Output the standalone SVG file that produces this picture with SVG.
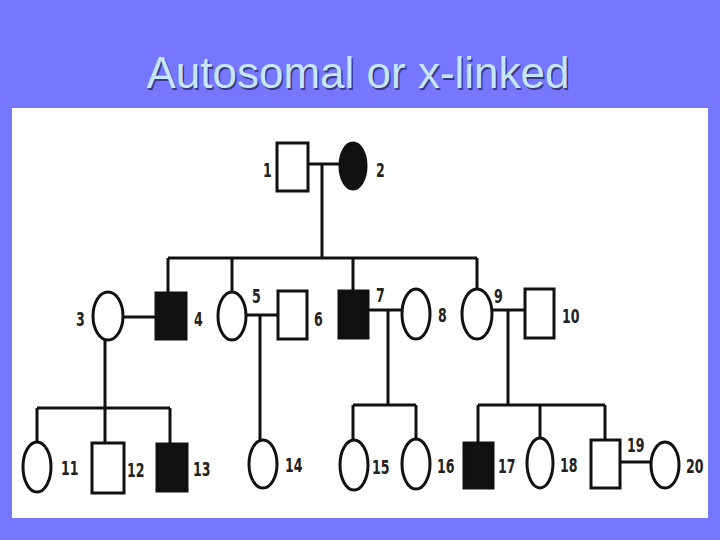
<svg xmlns="http://www.w3.org/2000/svg" width="720" height="540" viewBox="0 0 720 540">
<style>
.bg{fill:#7777fd}
.panel{fill:#ffffff}
.title{font-family:"Liberation Sans",Arial,sans-serif;font-size:44px;fill:#c6e6ff;text-anchor:middle}
.shadow{font-family:"Liberation Sans",Arial,sans-serif;font-size:44px;fill:#3a3a80;text-anchor:middle}
.e{fill:#fff;stroke:#111;stroke-width:3}
.a{fill:#111;stroke:#111;stroke-width:3}
.ln{stroke:#111;stroke-width:3;fill:none}
.lb{font-family:"DejaVu Sans Condensed","DejaVu Sans",sans-serif;font-size:20px;font-weight:bold;fill:#222}
</style>
<rect class="bg" x="0" y="0" width="720" height="540"/>
<rect class="panel" x="12" y="108" width="696" height="410"/>
<text class="shadow" x="359.5" y="89.5">Autosomal or x-linked</text>
<text class="title" x="358" y="88">Autosomal or x-linked</text>

<g id="connectors">
<path class="ln" d="M308 164H340M322 164V258M168 258H477M168 258V292M232 258V292M353 258V290M477 258V288"/>
<path class="ln" d="M123 317H155M105 340V408M37 408H170M37 408V442M105 408V443M170 408V444"/>
<path class="ln" d="M247 315H278M260 315V440"/>
<path class="ln" d="M368 310H402M388 310V405M353 405H416M353 405V440M416 405V439"/>
<path class="ln" d="M492 310H525M508 310V405M478 405H605M478 405V442M540 405V438M605 405V440"/>
<path class="ln" d="M620 462H651"/>
</g>

<g id="n1"><rect class="e" x="277" y="143" width="31" height="48"/><text class="lb" transform="translate(263 177) scale(0.7 1)">1</text></g>
<g id="n2"><ellipse class="a" cx="353" cy="166" rx="13" ry="23"/><text class="lb" transform="translate(376 177) scale(0.7 1)">2</text></g>

<g id="n3"><ellipse class="e" cx="108" cy="316" rx="15" ry="24"/><text class="lb" transform="translate(76 326) scale(0.7 1)">3</text></g>
<g id="n4"><rect class="a" x="156" y="293" width="30" height="46"/><text class="lb" transform="translate(194 326) scale(0.7 1)">4</text></g>
<g id="n5"><ellipse class="e" cx="232" cy="316" rx="14" ry="24"/><text class="lb" transform="translate(252 303) scale(0.7 1)">5</text></g>
<g id="n6"><rect class="e" x="278" y="291" width="29" height="48"/><text class="lb" transform="translate(314 326) scale(0.7 1)">6</text></g>
<g id="n7"><rect class="a" x="339" y="291" width="29" height="47"/><text class="lb" transform="translate(376 302) scale(0.7 1)">7</text></g>
<g id="n8"><ellipse class="e" cx="416" cy="314" rx="14" ry="25"/><text class="lb" transform="translate(438 322) scale(0.7 1)">8</text></g>
<g id="n9"><ellipse class="e" cx="477" cy="314" rx="15" ry="25"/><text class="lb" transform="translate(494 303) scale(0.7 1)">9</text></g>
<g id="n10"><rect class="e" x="525" y="289" width="29" height="49"/><text class="lb" transform="translate(562 323) scale(0.7 1)">10</text></g>

<g id="n11"><ellipse class="e" cx="37" cy="467" rx="14" ry="25"/><text class="lb" transform="translate(61 475) scale(0.7 1)">11</text></g>
<g id="n12"><rect class="e" x="92" y="443" width="32" height="50"/><text class="lb" transform="translate(127 477) scale(0.7 1)">12</text></g>
<g id="n13"><rect class="a" x="157" y="444" width="30" height="47"/><text class="lb" transform="translate(193 476) scale(0.7 1)">13</text></g>
<g id="n14"><ellipse class="e" cx="263" cy="464" rx="14" ry="24"/><text class="lb" transform="translate(285 472) scale(0.7 1)">14</text></g>
<g id="n15"><ellipse class="e" cx="354" cy="465" rx="14" ry="25"/><text class="lb" transform="translate(372 474) scale(0.7 1)">15</text></g>
<g id="n16"><ellipse class="e" cx="416" cy="464" rx="14" ry="25"/><text class="lb" transform="translate(437 473) scale(0.7 1)">16</text></g>
<g id="n17"><rect class="a" x="464" y="443" width="29" height="45"/><text class="lb" transform="translate(498 473) scale(0.7 1)">17</text></g>
<g id="n18"><ellipse class="e" cx="540" cy="463" rx="13" ry="25"/><text class="lb" transform="translate(560 472) scale(0.7 1)">18</text></g>
<g id="n19"><rect class="e" x="591" y="440" width="29" height="48"/><text class="lb" transform="translate(627 452) scale(0.7 1)">19</text></g>
<g id="n20"><ellipse class="e" cx="665" cy="465" rx="14" ry="23"/><text class="lb" transform="translate(686 473) scale(0.7 1)">20</text></g>
</svg>
